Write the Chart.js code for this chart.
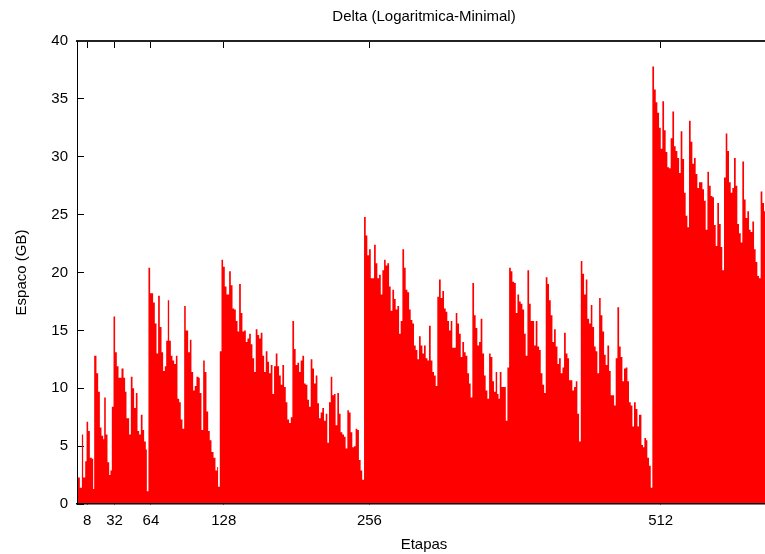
<!DOCTYPE html>
<html>
<head>
<meta charset="utf-8">
<script src="https://cdn.jsdelivr.net/npm/chart.js@4.4.1/dist/chart.umd.min.js"></script>
<style>
  html, body { margin: 0; padding: 0; overflow: hidden; background: #fff; }
  #wrap { width: 780px; height: 554px; position: relative; }
</style>
</head>
<body>
<div id="wrap"><canvas id="deltaChart"></canvas></div>
<script>
// Etapa where each step starts, and its space (GB)
const etapas = [
  -0.5, 1.5, 3.3, 4.4, 6.2, 7.4, 8.8, 10.3, 12.0, 13.2,
  14.1, 16.1, 17.6, 19.1, 20.5, 22.0, 22.9, 24.3, 25.8, 27.3,
  28.4, 29.6, 31.1, 32.5, 34.0, 35.5, 38.1, 39.9, 41.3, 42.5,
  44.8, 46.3, 47.8, 49.2, 50.7, 52.2, 53.6, 55.1, 56.6, 58.0,
  59.5, 60.4, 61.8, 63.3, 65.9, 67.4, 68.9, 70.3, 71.8, 73.3,
  74.7, 76.2, 77.4, 78.8, 80.0, 81.5, 82.9, 84.4, 85.9, 87.3,
  88.8, 90.2, 91.7, 93.2, 94.6, 96.7, 98.2, 99.6, 101.1, 102.5,
  104.0, 105.8, 106.9, 108.4, 109.9, 111.3, 112.8, 114.3, 115.7, 117.2,
  119.0, 120.7, 122.2, 123.0, 124.5, 126.0, 127.4, 128.9, 130.4, 132.7,
  134.2, 135.7, 137.1, 138.6, 140.1, 141.5, 143.0, 144.4, 145.9, 147.4,
  148.8, 150.3, 151.8, 153.2, 154.7, 156.1, 157.6, 159.1, 160.5, 162.0,
  163.5, 164.9, 166.4, 167.8, 169.3, 170.8, 172.2, 173.7, 175.2, 176.6,
  178.1, 179.5, 181.0, 182.5, 183.9, 185.4, 186.9, 188.3, 189.8, 191.2,
  192.7, 194.2, 195.6, 197.1, 198.6, 200.0, 201.5, 202.9, 204.4, 205.9,
  207.3, 208.8, 210.3, 211.7, 213.2, 214.6, 216.1, 217.6, 219.0, 220.5,
  222.0, 223.4, 224.9, 226.3, 227.8, 229.3, 230.7, 232.2, 233.7, 235.1,
  236.6, 238.0, 239.5, 241.0, 242.4, 243.9, 245.4, 246.8, 248.3, 249.7,
  251.3, 252.8, 254.2, 255.7, 257.2, 260.1, 261.6, 263.0, 264.5, 266.0,
  267.4, 268.9, 270.3, 271.8, 273.3, 274.7, 276.2, 277.7, 279.1, 280.6,
  282.1, 283.5, 285.0, 286.5, 287.9, 289.4, 290.9, 292.3, 293.8, 295.2,
  296.7, 298.2, 299.6, 301.1, 302.6, 304.0, 305.5, 307.0, 308.4, 309.9,
  311.4, 312.8, 314.3, 315.7, 317.2, 318.7, 320.1, 321.6, 323.1, 324.5,
  326.0, 327.5, 328.9, 331.9, 333.3, 334.8, 336.3, 337.7, 339.2, 340.6,
  342.1, 343.6, 345.0, 346.5, 348.0, 349.4, 350.9, 352.4, 353.8, 355.3,
  356.8, 358.2, 359.7, 361.2, 362.6, 364.1, 365.5, 367.0, 368.3, 369.5,
  370.6, 372.1, 375.9, 377.3, 378.8, 380.3, 381.7, 383.2, 384.7, 386.1,
  387.6, 389.0, 390.5, 392.0, 393.4, 394.9, 396.4, 397.8, 400.8, 402.2,
  403.7, 405.2, 406.6, 408.1, 409.6, 411.0, 412.5, 413.9, 415.4, 416.9,
  418.3, 419.8, 421.3, 422.7, 424.2, 425.7, 427.1, 428.6, 430.1, 431.5,
  434.4, 435.9, 437.4, 438.8, 440.3, 441.8, 443.2, 444.7, 446.2, 447.6,
  449.1, 450.6, 452.0, 453.5, 454.9, 456.4, 457.9, 459.3, 460.8, 462.3,
  463.7, 465.2, 466.7, 468.1, 471.1, 472.5, 474.0, 475.5, 476.9, 478.4,
  479.8, 481.3, 482.8, 484.2, 485.7, 487.2, 488.6, 490.1, 491.6, 493.0,
  495.1, 496.5, 497.7, 499.2, 500.3, 501.8, 503.3, 504.7, 506.2, 507.7,
  509.1, 510.6, 512.1, 513.5, 515.0, 516.4, 517.9, 519.4, 520.8, 522.3,
  523.8, 525.2, 526.7, 528.2, 529.6, 531.1, 532.6, 534.0, 535.5, 536.9,
  538.4, 539.9, 541.3, 542.8, 544.3, 545.7, 548.7, 550.1, 551.6, 553.1,
  554.5, 556.0, 557.5, 558.9, 560.4, 561.8, 563.3, 564.8, 566.2, 567.7,
  569.2, 570.6, 572.1, 573.6, 575.0, 576.5, 578.0, 579.4, 580.9, 582.4,
  583.8, 585.3, 586.7, 588.2, 589.7, 591.1, 592.6, 594.1, 595.5, 597.0,
  598.5, 599.9, 601.4, 602.9, 605.0
];
const espaco = [
  2.3, 1.4, 6.0, 2.3, 3.7, 7.1, 6.3, 4.0, 3.9, 1.3,
  12.8, 11.3, 9.7, 6.6, 5.9, 5.6, 9.2, 6.0, 3.6, 2.5,
  2.9, 8.4, 16.2, 13.1, 11.9, 10.9, 11.7, 10.9, 9.7, 7.4,
  6.0, 11.0, 10.0, 8.3, 9.6, 6.3, 6.0, 7.7, 6.4, 5.4,
  4.7, 1.1, 20.4, 18.2, 17.4, 15.6, 13.0, 18.0, 15.3, 13.1,
  11.5, 11.9, 14.1, 17.6, 14.1, 12.8, 12.4, 12.1, 12.8, 9.1,
  8.8, 7.3, 6.5, 17.1, 15.0, 13.1, 14.2, 11.4, 9.8, 10.2,
  11.0, 10.9, 9.6, 6.4, 12.4, 11.4, 8.0, 6.3, 5.5, 4.5,
  4.0, 2.9, 3.2, 1.5, 13.2, 21.1, 20.5, 18.8, 18.1, 20.1,
  18.9, 16.9, 16.8, 15.8, 14.9, 19.0, 16.5, 14.9, 15.0, 14.0,
  14.3, 14.7, 13.8, 12.6, 11.4, 15.1, 14.6, 14.3, 14.8, 12.8,
  11.4, 13.2, 12.3, 11.3, 12.0, 9.5, 11.9, 13.0, 11.9, 11.1,
  10.3, 12.0, 10.1, 8.8, 7.3, 7.0, 7.5, 15.8, 13.4, 12.0,
  12.2, 11.4, 12.4, 12.8, 10.4, 10.3, 9.0, 8.4, 12.5, 11.7,
  10.4, 11.1, 8.7, 7.4, 7.9, 8.3, 7.2, 7.8, 5.3, 8.8,
  11.0, 9.4, 9.5, 6.8, 9.6, 7.8, 6.2, 6.0, 5.8, 4.8,
  8.1, 7.9, 6.2, 4.9, 5.0, 6.5, 6.4, 3.8, 2.9, 2.1,
  24.8, 23.2, 21.5, 22.0, 19.5, 22.4, 20.8, 19.5, 19.8, 18.1,
  20.2, 21.1, 20.6, 20.8, 18.8, 16.7, 18.5, 17.7, 16.8, 17.1,
  14.7, 15.8, 22.0, 20.4, 18.5, 18.3, 16.8, 15.9, 15.6, 13.7,
  13.3, 12.5, 14.5, 13.7, 13.0, 13.7, 12.6, 12.4, 15.4, 12.4,
  11.4, 11.1, 10.2, 17.9, 19.4, 17.8, 18.4, 16.9, 16.6, 15.8,
  15.0, 15.8, 13.5, 16.5, 15.6, 14.7, 12.7, 14.0, 13.1, 12.8,
  11.3, 10.4, 9.2, 19.1, 16.3, 15.2, 13.7, 14.0, 16.0, 13.0,
  11.1, 9.8, 9.1, 13.0, 12.7, 10.6, 9.7, 11.4, 9.5, 9.1,
  11.4, 10.1, 7.2, 11.8, 20.4, 20.1, 19.2, 19.1, 16.5, 18.1,
  17.5, 17.3, 16.8, 14.7, 12.8, 20.2, 17.3, 15.8, 13.7, 15.8,
  13.6, 13.3, 11.3, 10.3, 9.6, 19.6, 19.0, 17.6, 16.3, 14.0,
  15.1, 13.6, 12.1, 12.6, 11.3, 11.8, 14.8, 13.0, 12.6, 10.7,
  9.8, 10.1, 10.6, 7.8, 5.4, 21.0, 19.9, 18.1, 19.4, 16.0,
  15.6, 17.2, 15.3, 13.6, 13.2, 11.3, 17.8, 16.3, 14.9, 12.9,
  12.0, 13.7, 11.5, 9.4, 8.5, 12.6, 17.0, 13.6, 12.7, 10.6,
  11.7, 11.8, 10.6, 8.8, 8.5, 6.7, 8.8, 8.2, 6.7, 7.7,
  5.1, 4.9, 5.7, 5.5, 4.0, 3.3, 1.4, 37.8, 35.8, 34.7,
  33.8, 32.5, 30.7, 34.8, 32.3, 30.4, 29.1, 29.0, 31.6, 33.9,
  30.9, 30.5, 29.9, 28.6, 32.2, 29.8, 26.9, 24.9, 23.9, 33.1,
  31.3, 29.4, 29.9, 28.5, 27.3, 27.8, 27.2, 26.2, 23.7, 28.7,
  27.5, 26.6, 26.5, 24.1, 22.3, 26.0, 24.2, 22.2, 20.2, 28.2,
  32.0, 30.5, 27.8, 26.9, 27.3, 29.9, 27.5, 24.2, 23.4, 22.6,
  29.6, 26.3, 24.7, 25.3, 23.7, 23.5, 24.4, 22.0, 20.9, 19.7,
  19.5, 27.0, 26.0, 25.3, 25.3
];
const xTicks = [8, 32, 64, 128, 256, 512];

const font = { family: 'Liberation Sans, Arial, sans-serif', size: 15 };

function setXTicks(scale) {
  scale.ticks = xTicks.map(v => ({ value: v }));
}

const ctx = document.getElementById('deltaChart').getContext('2d');
new Chart(ctx, {
  type: 'line',
  data: {
    datasets: [{
      data: etapas.map((x, i) => ({ x: x, y: espaco[i] })),
      stepped: 'before',
      fill: 'origin',
      backgroundColor: '#ff0000',
      borderColor: 'rgba(0,0,0,0)',
      borderWidth: 0,
      pointRadius: 0,
      pointHitRadius: 0
    }]
  },
  options: {
    responsive: true,
    maintainAspectRatio: false,
    animation: false,
    events: [],
    layout: { padding: { left: 0, right: 9, top: 0, bottom: 0 } },
    plugins: {
      legend: { display: false },
      tooltip: { enabled: false },
      title: {
        display: true,
        text: 'Delta (Logaritmica-Minimal)',
        fullSize: false,
        color: '#000',
        font: { family: font.family, size: 15, weight: 'normal' },
        padding: { top: 8, bottom: 15 }
      }
    },
    scales: {
      x: {
        type: 'linear',
        position: 'bottom',
        min: -1,
        max: 609,
        afterBuildTicks: setXTicks,
        afterFit: s => { s.height = 50; },
        ticks: { font: font, color: '#000', autoSkip: false, maxRotation: 0, padding: 15 },
        grid: { drawOnChartArea: false, tickLength: -7, color: '#000' },
        border: { color: '#000', width: 1.5, z: 1 },
        title: { display: true, text: 'Etapas', font: font, color: '#000', padding: { top: 0, bottom: 0 } }
      },
      x2: {
        type: 'linear',
        position: 'top',
        min: -1,
        max: 609,
        afterBuildTicks: setXTicks,
        afterFit: s => { s.height = 0; },
        ticks: { display: false },
        grid: { drawOnChartArea: false, tickLength: -7, color: '#000' },
        border: { color: '#222', width: 2, z: 1 }
      },
      y: {
        min: 0,
        max: 40,
        afterFit: s => { s.width = 77; },
        ticks: { stepSize: 5, font: font, color: '#000', padding: 16 },
        grid: { drawOnChartArea: false, tickLength: -7, color: '#000' },
        border: { color: '#000', width: 1, z: 1 },
        title: { display: true, text: 'Espaco (GB)', font: font, color: '#000', padding: { top: 13, bottom: 0 } }
      }
    }
  }
});
</script>
</body>
</html>
